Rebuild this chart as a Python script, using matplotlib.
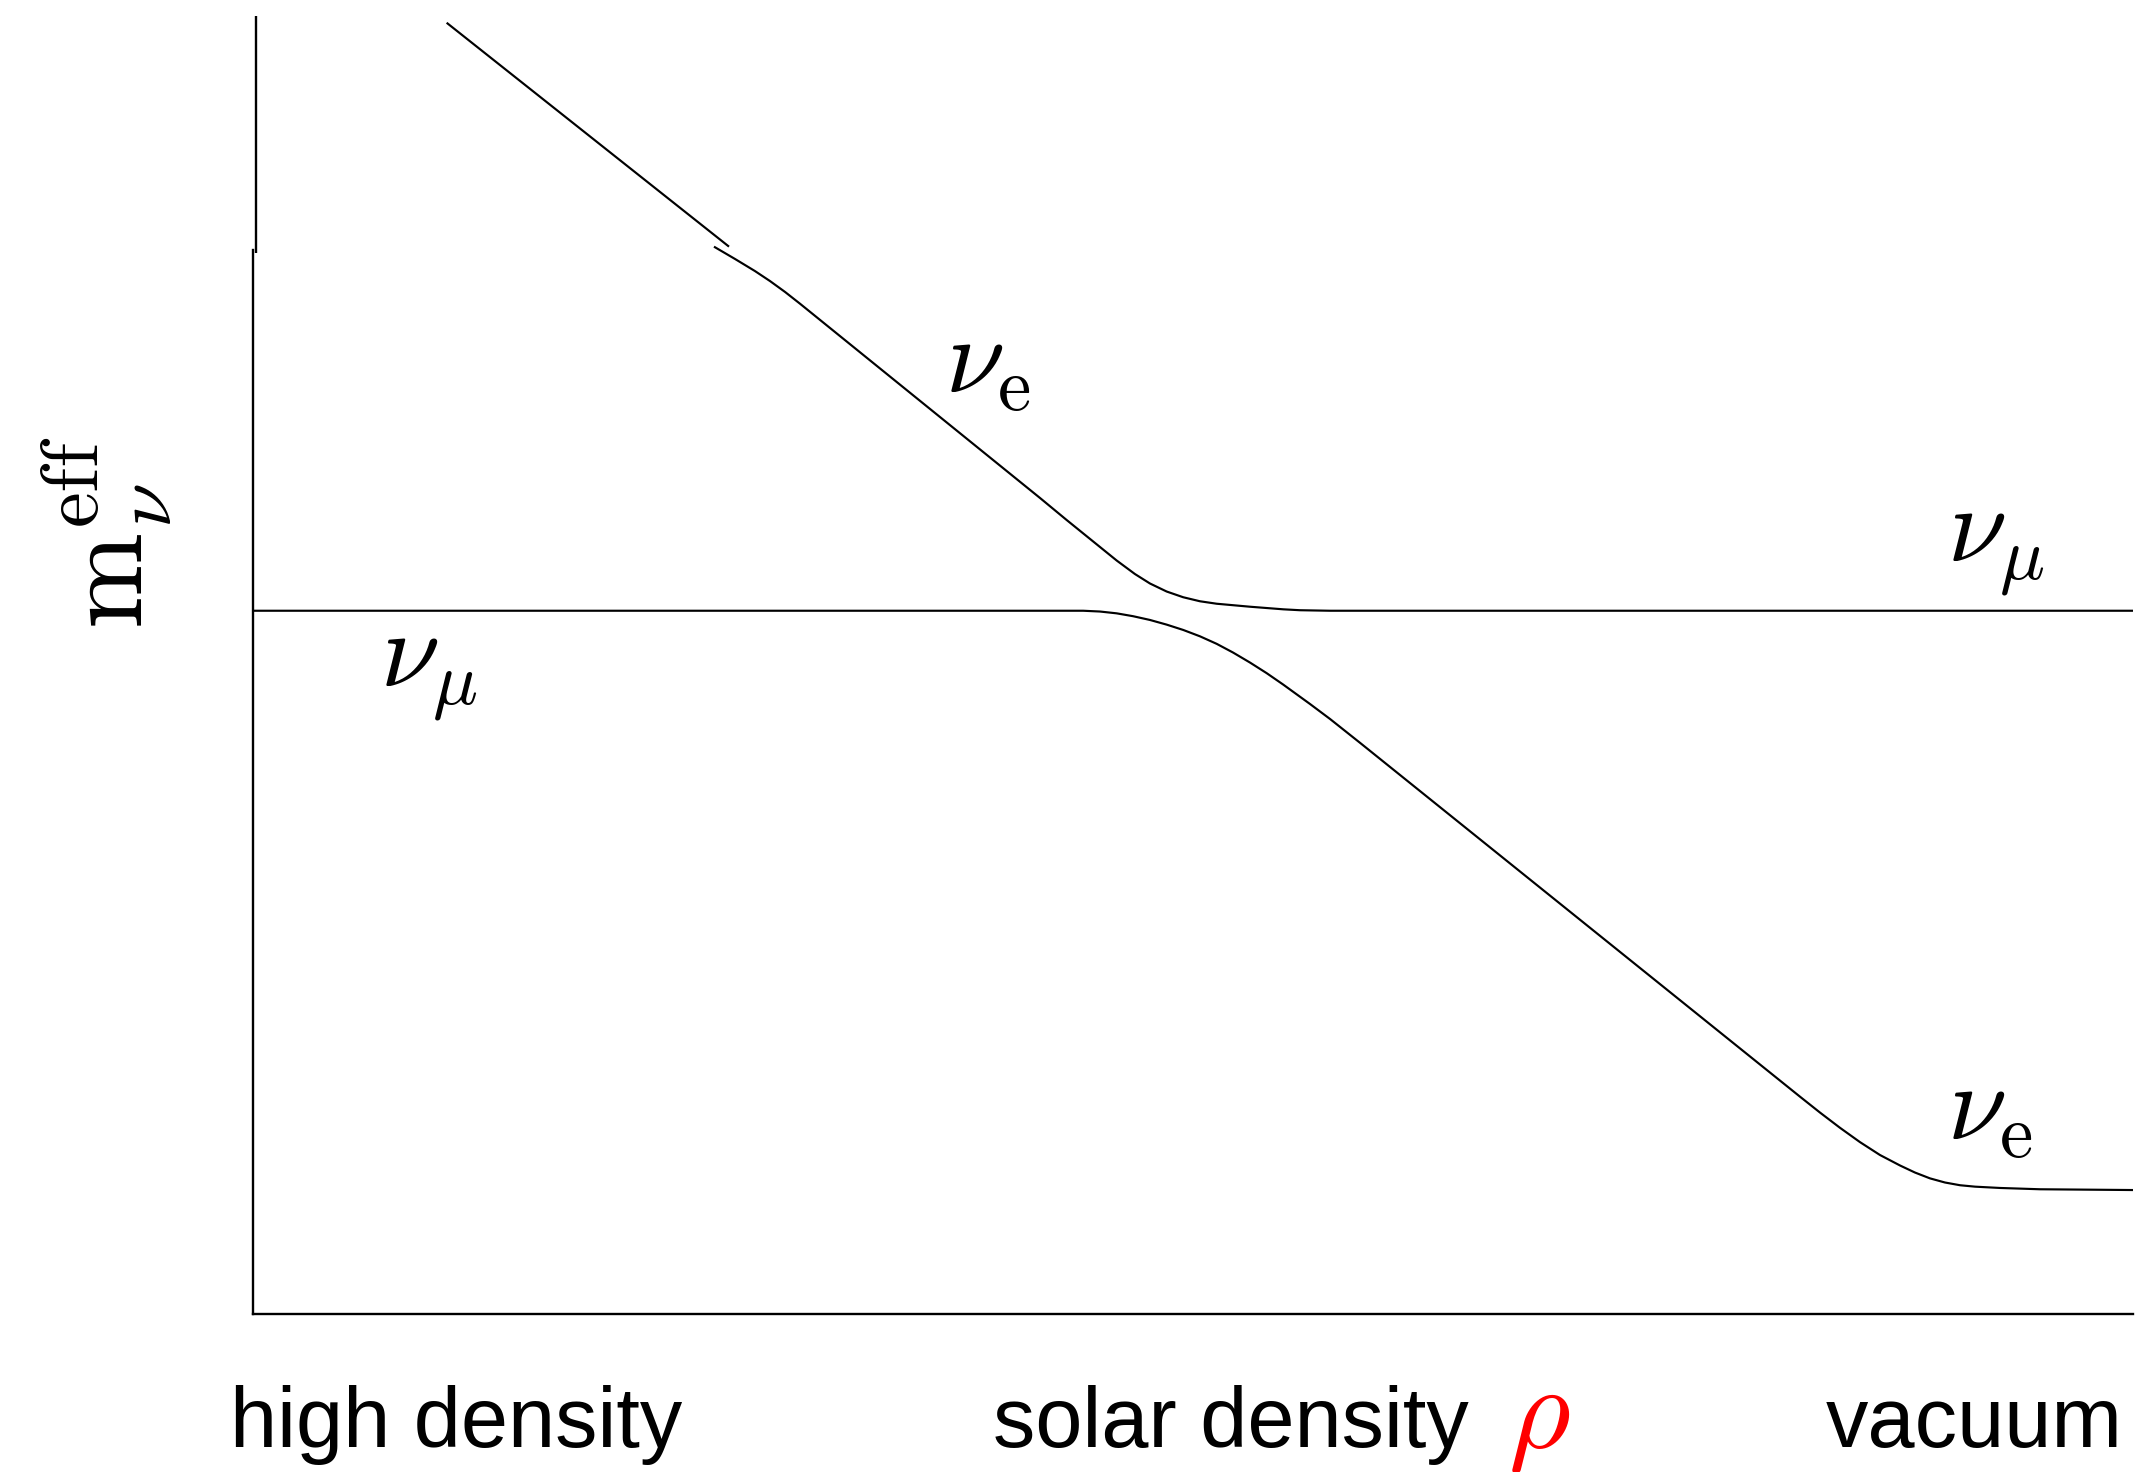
import matplotlib
matplotlib.use("Agg")
import matplotlib.pyplot as plt

plt.rcParams["mathtext.fontset"] = "cm"
plt.rcParams["font.family"] = ["Liberation Sans", "DejaVu Sans"]

# density axis runs from high density (left) to vacuum (right); values in arbitrary units
# branch that starts as nu_e at high density and ends as nu_mu in vacuum
upper_x = [24.52, 25.64, 26.70, 27.50, 28.30, 29.10, 41.86, 43.28, 45.94, 46.91,
           47.71, 48.60, 49.48, 50.37, 51.26, 53.03, 54.80, 55.69, 57.29, 100.0]
upper_y = [82.23, 81.28, 80.35, 79.58, 78.74, 77.83, 62.87, 61.17, 58.05, 57.01,
           56.28, 55.66, 55.22, 54.91, 54.72, 54.49, 54.29, 54.22, 54.18, 54.18]

# off-scale piece of the nu_e line above the break
top_x = [10.30, 25.32]
top_y = [99.48, 82.23]

# branch that starts as nu_mu and ends as nu_e
lower_x = [0.0, 44.16, 45.05, 45.94, 46.81, 47.71, 48.60, 49.48, 50.37, 51.26,
           52.13, 53.03, 53.92, 54.80, 56.22, 57.29, 58.88, 82.29, 83.35, 84.41,
           85.48, 86.54, 87.61, 88.40, 89.20, 90.00, 90.80, 91.60, 92.93, 95.05, 100.0]
lower_y = [54.18, 54.18, 54.12, 53.98, 53.76, 53.47, 53.11, 52.70, 52.21, 51.63,
           50.96, 50.19, 49.37, 48.49, 47.00, 45.84, 44.01, 16.74, 15.52, 14.35,
           13.24, 12.25, 11.44, 10.90, 10.45, 10.13, 9.92, 9.81, 9.71, 9.61, 9.55]

# flavour labels: text, x, y (baseline)
state_labels = [r"$\nu_{\mathrm{e}}$", r"$\nu_{\mu}$", r"$\nu_{\mu}$", r"$\nu_{\mathrm{e}}$"]
state_x = [36.80, 6.75, 90.10, 90.10]
state_y = [71.0, 48.3, 57.93, 13.4]

region_labels = ["high density", "solar density", "vacuum"]
region_x = [-1.22, 39.37, 83.67]
rho_x = 66.75
axis_break = 81.97

fig = plt.figure(figsize=(21.37, 14.72), dpi=100)
ax = fig.add_axes([253 / 2137, 158 / 1472, 1880 / 2137, 1298 / 1472])
ax.set_xlim(0, 100)
ax.set_ylim(0, 100)

lw = 1.55
ax.plot(top_x, top_y, color="black", lw=lw, solid_capstyle="butt")
ax.plot(upper_x, upper_y, color="black", lw=lw, solid_capstyle="butt",
        solid_joinstyle="round")
ax.plot(lower_x, lower_y, color="black", lw=lw, solid_capstyle="butt",
        solid_joinstyle="round")

for s in ["top", "right"]:
    ax.spines[s].set_visible(False)
ax.spines["left"].set_linewidth(1.7)
ax.spines["bottom"].set_linewidth(1.7)
ax.spines["left"].set_bounds(0, axis_break)
# upper part of the y axis, drawn slightly offset
ax.plot([0.14, 0.14], [axis_break - 0.2, 100], color="black", lw=1.7, clip_on=False,
        solid_capstyle="butt")
ax.set_xticks([])
ax.set_yticks([])

for txt, x, y in zip(state_labels, state_x, state_y):
    ax.text(x, y, txt, fontsize=77, ha="left", va="baseline")

xt = ax.get_xaxis_transform()
for txt, x in zip(region_labels, region_x):
    ax.text(x, -0.1025, txt, fontsize=61, ha="left", va="baseline", transform=xt)
ax.text(rho_x, -0.1025, r"$\rho$", fontsize=86, color="red", ha="left",
        va="baseline", transform=xt)

fig.text(0.050, 0.638, r"$\mathrm{m}_{\nu}^{\mathrm{eff}}$", fontsize=83,
         rotation=90, ha="center", va="center")

fig.savefig("out.png", dpi=100)
